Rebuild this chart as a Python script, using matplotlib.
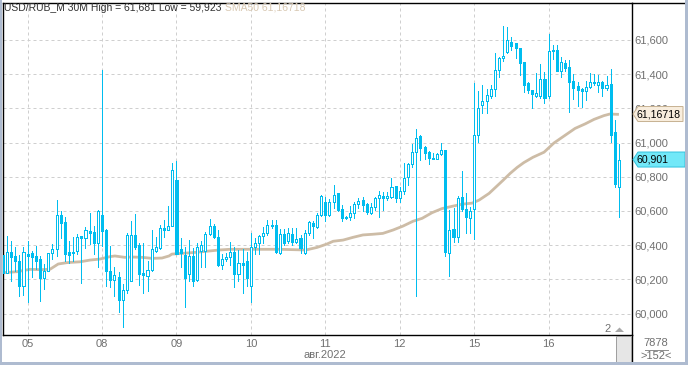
import matplotlib
matplotlib.use('Agg')
import matplotlib.pyplot as plt
from matplotlib.patches import Rectangle, Polygon
from matplotlib.lines import Line2D
from matplotlib.ticker import FuncFormatter

plt.rcParams['font.family'] = ['Liberation Sans', 'DejaVu Sans']

# ---------------- data ----------------
opens = [60.34, 60.236, 60.363, 60.334, 60.310, 60.159, 60.349, 60.353, 60.334, 60.320,
         60.206, 60.251, 60.353, 60.379, 60.575, 60.535, 60.359, 60.357, 60.369, 60.451,
         60.443, 60.483, 60.479, 60.414, 60.575, 60.486, 60.251, 60.196, 60.216, 60.081,
         60.14, 60.19, 60.46, 60.40, 60.235, 60.222, 60.255, 60.365, 60.384, 60.502,
         60.49, 60.51, 60.78, 60.375, 60.34, 60.232, 60.335, 60.196, 60.368, 60.369,
         60.467, 60.51, 60.45, 60.285, 60.32, 60.33, 60.36, 60.232, 60.294, 60.306,
         60.163, 60.391, 60.411, 60.454, 60.469, 60.518, 60.518, 60.352, 60.465, 60.426,
         60.465, 60.421, 60.44, 60.356, 60.469, 60.528, 60.508, 60.577, 60.651, 60.577,
         60.655, 60.703, 60.61, 60.567, 60.563, 60.586, 60.639, 60.664, 60.639, 60.59,
         60.625, 60.674, 60.688, 60.674, 60.684, 60.746, 60.674, 60.719, 60.797, 60.873,
         60.945, 61.039, 60.976, 60.947, 60.912, 60.906, 60.931, 60.957, 60.356, 60.493,
         60.446, 60.68, 60.61, 60.557, 60.61, 61.044, 61.220, 61.243, 61.273, 61.312,
         61.425, 61.493, 61.532, 61.590, 61.584, 61.551, 61.471, 61.347, 61.308, 61.273,
         61.273, 61.370, 61.273, 61.536, 61.542, 61.421, 61.464, 61.440, 61.360, 61.331,
         61.315, 61.304, 61.323, 61.347, 61.337, 61.354, 61.321, 61.343, 61.060, 60.742]
highs = [60.34, 60.451, 60.422, 60.388, 60.343, 60.392, 60.424, 60.369, 60.398, 60.337,
         60.290, 60.355, 60.408, 60.663, 60.600, 60.565, 60.424, 60.447, 60.467, 60.451,
         60.506, 60.588, 60.510, 60.604, 61.425, 60.496, 60.398, 60.275, 60.245, 60.173,
         60.47, 60.54, 60.58, 60.41, 60.41, 60.31, 60.49, 60.45, 60.52, 60.55,
         60.63, 60.88, 60.89, 60.443, 60.39, 60.43, 60.385, 60.41, 60.426, 60.477,
         60.555, 60.525, 60.49, 60.35, 60.353, 60.418, 60.39, 60.37, 60.378, 60.36,
         60.47, 60.44, 60.46, 60.508, 60.547, 60.547, 60.547, 60.493, 60.493, 60.50,
         60.50, 60.50, 60.46, 60.49, 60.54, 60.54, 60.587, 60.694, 60.68, 60.67,
         60.752, 60.707, 60.635, 60.571, 60.63, 60.65, 60.674, 60.684, 60.649, 60.645,
         60.684, 60.719, 60.713, 60.71, 60.791, 60.746, 60.74, 60.879, 60.883, 60.992,
         61.078, 61.045, 60.98, 60.951, 60.941, 60.941, 60.996, 60.957, 60.606, 60.616,
         60.688, 60.834, 60.703, 60.625, 61.347, 61.304, 61.337, 61.312, 61.337, 61.522,
         61.503, 61.682, 61.674, 61.620, 61.584, 61.551, 61.471, 61.356, 61.308, 61.409,
         61.460, 61.415, 61.635, 61.571, 61.571, 61.503, 61.483, 61.483, 61.401, 61.354,
         61.321, 61.360, 61.405, 61.401, 61.395, 61.360, 61.390, 61.429, 61.132, 60.992]
lows = [60.236, 60.236, 60.192, 60.251, 60.100, 60.110, 60.065, 60.216, 60.261, 60.075,
        60.143, 60.251, 60.320, 60.339, 60.441, 60.306, 60.294, 60.306, 60.349, 60.179,
        60.384, 60.408, 60.349, 60.271, 60.398, 60.163, 60.153, 60.104, 60.010, 59.923,
        60.12, 60.19, 60.38, 60.17, 60.12, 60.13, 60.25, 60.36, 60.38, 60.45,
        60.49, 60.51, 60.35, 60.27, 60.04, 60.19, 60.163, 60.19, 60.27, 60.27,
        60.46, 60.44, 60.28, 60.26, 60.31, 60.287, 60.153, 60.19, 60.118, 60.163,
        60.07, 60.35, 60.35, 60.415, 60.46, 60.50, 60.352, 60.35, 60.40, 60.41,
        60.40, 60.41, 60.356, 60.35, 60.46, 60.44, 60.50, 60.57, 60.54, 60.57,
        60.62, 60.60, 60.54, 60.552, 60.55, 60.56, 60.62, 60.60, 60.585, 60.58,
        60.606, 60.567, 60.606, 60.665, 60.674, 60.655, 60.65, 60.70, 60.752, 60.86,
        60.103, 60.898, 60.902, 60.875, 60.902, 60.902, 60.925, 60.337, 60.220, 60.421,
        60.421, 60.60, 60.47, 60.469, 60.434, 61.006, 61.171, 61.175, 61.26, 61.27,
        61.382, 61.479, 61.526, 61.542, 61.493, 61.395, 61.298, 61.288, 61.200, 61.265,
        61.26, 61.234, 61.26, 61.487, 61.42, 61.382, 61.421, 61.181, 61.255, 61.214,
        61.206, 61.249, 61.32, 61.337, 61.298, 61.273, 61.31, 61.006, 60.742, 60.567]
closes = [60.24, 60.363, 60.330, 60.306, 60.159, 60.363, 60.339, 60.330, 60.310, 60.206,
          60.251, 60.355, 60.379, 60.575, 60.530, 60.349, 60.345, 60.363, 60.447, 60.441,
          60.490, 60.471, 60.414, 60.598, 60.483, 60.251, 60.196, 60.226, 60.081, 60.138,
          60.46, 60.46, 60.39, 60.23, 60.226, 60.255, 60.375, 60.392, 60.502, 60.49,
          60.51, 60.84, 60.35, 60.355, 60.21, 60.339, 60.192, 60.392, 60.40, 60.467,
          60.51, 60.447, 60.283, 60.32, 60.333, 60.36, 60.232, 60.294, 60.287, 60.206,
          60.388, 60.411, 60.454, 60.473, 60.518, 60.512, 60.362, 60.465, 60.415, 60.469,
          60.421, 60.436, 60.382, 60.469, 60.534, 60.514, 60.577, 60.688, 60.577, 60.651,
          60.694, 60.606, 60.557, 60.557, 60.586, 60.641, 60.658, 60.635, 60.596, 60.625,
          60.674, 60.694, 60.674, 60.688, 60.738, 60.678, 60.719, 60.791, 60.873, 60.945,
          61.025, 60.97, 60.941, 60.908, 60.904, 60.931, 60.957, 60.362, 60.489, 60.45,
          60.674, 60.61, 60.563, 60.602, 61.044, 61.200, 61.243, 61.278, 61.312, 61.425,
          61.493, 61.506, 61.6, 61.565, 61.551, 61.464, 61.337, 61.308, 61.284, 61.288,
          61.370, 61.259, 61.536, 61.542, 61.421, 61.469, 61.438, 61.356, 61.321, 61.308,
          61.304, 61.323, 61.352, 61.356, 61.352, 61.321, 61.337, 61.044, 60.760, 60.901]

# SMA50 read at sample bars
sma_bar = [0, 3.4, 6.6, 9, 11.4, 13.4, 15.5, 18.7, 21.1, 23.5, 25.9, 27.1, 29.5, 31.2,
           33.7, 36.1, 38.5, 40.2, 40.9, 43.3, 46.5, 49.9, 52.3, 55, 59.8, 67, 73.3, 76,
           78.4, 79.9, 82.3, 84.7, 87.1, 89.5, 91.9, 94.4, 96.8, 99.2, 101.4, 103.8,
           106.2, 108.6, 111.1, 113.5, 115.2, 117.6, 119.5, 121, 122.7, 124.4, 126,
           128.2, 130.9, 133.3, 135.7, 138.4, 140.8, 143, 145.4, 146.8, 149]
sma_val = [60.239, 60.245, 60.259, 60.257, 60.259, 60.29, 60.298, 60.303, 60.313, 60.319,
           60.333, 60.337, 60.329, 60.331, 60.329, 60.323, 60.325, 60.337, 60.348, 60.352,
           60.358, 60.366, 60.372, 60.376, 60.376, 60.376, 60.372, 60.387, 60.407, 60.423,
           60.43, 60.446, 60.46, 60.464, 60.469, 60.489, 60.512, 60.54, 60.557, 60.59,
           60.614, 60.627, 60.64, 60.646, 60.664, 60.703, 60.746, 60.78, 60.82, 60.855,
           60.883, 60.914, 60.944, 60.998, 61.038, 61.083, 61.109, 61.136, 61.158,
           61.167, 61.165]

day_labels = ['05', '08', '09', '10', '11', '12', '15', '16']
day_first_bar = [6, 24, 42, 60, 78, 96, 114, 132]
price_ticks = [60.0, 60.2, 60.4, 60.6, 60.8, 61.0, 61.2, 61.4, 61.6]
symbol_title = 'USD/RUB_M 30M High = 61,681 Low = 59,923'
sma_title = 'SMA50 61,16718'
sma_last = 61.16718
last_price = 60.901
month_label = 'авг.2022'

# ---------------- layout ----------------
W, H = 688, 365
fig = plt.figure(figsize=(W / 100, H / 100), dpi=100)
fig.patch.set_facecolor('white')

def fx(px):
    return px / W

def fy(py):
    return 1 - py / H

AXL, AXR, AXT, AXB = 2.5, 632, 3, 335
ax = fig.add_axes([fx(AXL), fy(AXB), (AXR - AXL) / W, (AXB - AXT) / H])
ax.set_facecolor('white')

PX_PER_BAR = 4.135
BAR0_PX = 2.8
PX_PER_UNIT = 171.0
ax.set_xlim((AXL - BAR0_PX) / PX_PER_BAR, (AXR - BAR0_PX) / PX_PER_BAR)
ax.set_ylim(61.6 - (AXB - 40) / PX_PER_UNIT, 61.6 + (40 - AXT) / PX_PER_UNIT)

cyan = '#00bdef'
px_lw = 0.72

# grid
ax.set_yticks(price_ticks)
ax.set_xticks(day_first_bar)
ax.set_xticklabels(day_labels)
ax.grid(True, color='#cfcfcf', linestyle=(0, (3, 3)), linewidth=px_lw, zorder=0)
ax.set_axisbelow(True)

# SMA
ax.plot(sma_bar, sma_val, color='#cdbca6', lw=2.0, zorder=2, solid_capstyle='butt')

# candles
xs = list(range(len(opens)))
ax.vlines(xs, lows, highs, color=cyan, lw=px_lw, zorder=3, antialiased=False)
min_h = 1.0 / PX_PER_UNIT
for i in xs:
    o, c = opens[i], closes[i]
    lo = min(o, c)
    h = max(abs(c - o), min_h)
    bull = c >= o
    ax.add_patch(Rectangle((i - 0.25, lo), 0.5, h,
                           facecolor='white' if bull else cyan,
                           edgecolor=cyan, lw=px_lw, zorder=4, antialiased=False))

# axes styling
for s in ax.spines.values():
    s.set_color('black')
    s.set_linewidth(1.0)
ax.yaxis.tick_right()
ax.tick_params(axis='y', length=0, pad=2, labelsize=8, labelcolor='#707070')
ax.tick_params(axis='x', length=0, pad=3, labelsize=8, labelcolor='#707070')
ax.yaxis.set_major_formatter(FuncFormatter(lambda v, p: f'{v:.3f}'.replace('.', ',')))

# header
t1 = fig.text(fx(4), fy(8), symbol_title, fontsize=7.5, color='#303030', va='center', ha='left')
fig.canvas.draw()
bb = t1.get_window_extent(renderer=fig.canvas.get_renderer())
fig.text(bb.x1 / W + fx(3), fy(8), sma_title, fontsize=7.5, color='#d8c8b2', va='center', ha='left')

# price marker boxes
def price_y(v):
    return 40 + (61.6 - v) * PX_PER_UNIT

def marker(v, text, face, edge, right):
    yc = price_y(v)
    pts = [(633, yc), (638, yc - 7.5), (right, yc - 7.5), (right, yc + 7.5), (638, yc + 7.5)]
    fig.patches.append(Polygon([(fx(a), fy(b)) for a, b in pts], closed=True,
                               facecolor=face, edgecolor=edge, lw=px_lw,
                               transform=fig.transFigure, figure=fig, zorder=5))
    fig.text(fx(636.5), fy(yc), text, fontsize=7.6, color='black', va='center', ha='left', zorder=6)

marker(sma_last, f'{sma_last:.5f}'.replace('.', ','), '#f8eddd', '#c8b393', 683)
marker(last_price, f'{last_price:.3f}'.replace('.', ','), '#72e8f8', '#35c3de', 685)

# bottom area
fig.text(fx(325), fy(355), month_label, fontsize=8, color='#707070', ha='center', va='center')
fig.text(fx(608), fy(329), '2', fontsize=8, color='#707070', ha='center', va='center')
fig.patches.append(Polygon([(fx(615), fy(332)), (fx(619.5), fy(327.5)), (fx(624), fy(332))],
                           closed=True, facecolor='#a8a8a8', edgecolor='none',
                           transform=fig.transFigure, figure=fig, zorder=5))
fig.patches.append(Rectangle((fx(616), fy(362)), (631 - 616) / W, (362 - 336) / H,
                             facecolor='#e6e6e6', edgecolor='#a0a0a0', lw=px_lw,
                             transform=fig.transFigure, figure=fig, zorder=5))
fig.text(fx(656), fy(343), '7878', fontsize=8, color='#707070', ha='center', va='center')
fig.lines.append(Line2D([fx(645), fx(668)], [fy(350), fy(350)], color='#909090', lw=px_lw,
                        transform=fig.transFigure, figure=fig))
fig.text(fx(656), fy(356), '>152<', fontsize=8, color='#707070', ha='center', va='center')

# separator lines / frame
fig.lines.append(Line2D([fx(632), fx(632)], [fy(335), fy(362)], color='black', lw=1.0,
                        transform=fig.transFigure, figure=fig))
fig.lines.append(Line2D([fx(632), fx(686)], [fy(3), fy(3)], color='black', lw=1.0,
                        transform=fig.transFigure, figure=fig))
border = '#aebbd0'
fig.patches.append(Rectangle((0, 0), fx(2), 1, facecolor=border, edgecolor='none',
                             transform=fig.transFigure, figure=fig, zorder=7))
fig.patches.append(Rectangle((0, 0), 1, 3 / H, facecolor=border, edgecolor='none',
                             transform=fig.transFigure, figure=fig, zorder=7))
fig.patches.append(Rectangle((fx(685), 0), 3 / W, 1, facecolor=border, edgecolor='none',
                             transform=fig.transFigure, figure=fig, zorder=7))

fig.savefig('out.png', dpi=100, facecolor='white')
